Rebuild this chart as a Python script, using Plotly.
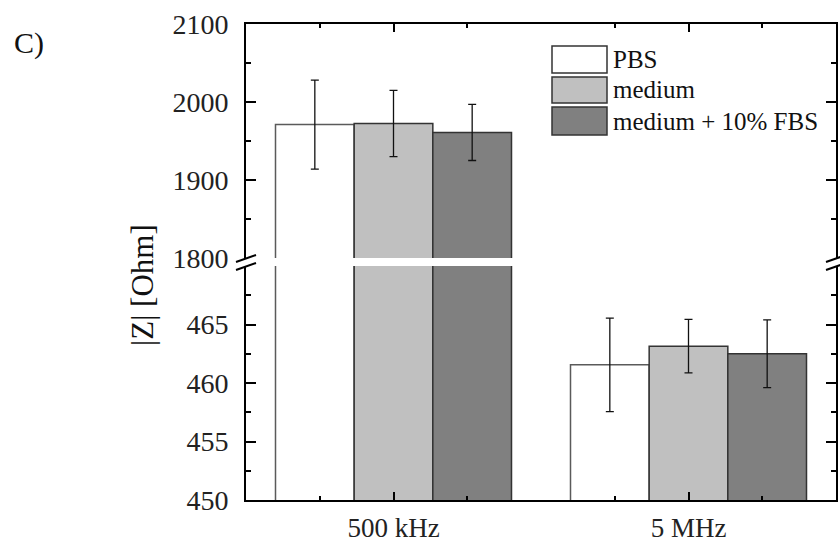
import plotly.graph_objects as go

# ---- data ----
categories = ["500 kHz", "5 MHz"]
series_names = ["PBS", "medium", "medium + 10% FBS"]
pbs_values = [1971, 461.55]
pbs_errors = [57, 4.0]
medium_values = [1972.5, 463.15]
medium_errors = [42.5, 2.28]
fbs_values = [1961, 462.5]
fbs_errors = [36, 2.9]
y_top_ticks = [1800, 1900, 2000, 2100]
y_bottom_ticks = [450, 455, 460, 465]

values = [pbs_values, medium_values, fbs_values]
errors = [pbs_errors, medium_errors, fbs_errors]
fills = ["#ffffff", "#c0c0c0", "#808080"]
outlines = ["#5a5a5a", "#333333", "#333333"]

FONT = "Liberation Serif, Times New Roman, serif"
W, H = 840, 543
# plot area in window pixels
PL, PR, PT, PB = 246, 836, 24, 500
L, R, T, B = PL, W - PR, PT, H - PB
PW, PH = PR - PL, PB - PT

def px_x(px):
    return (px - PL) / PW

def px_y(py):
    return (PB - py) / PH

x_pos = list(range(len(categories)))

fig = go.Figure()
for axes in (("x", "y"), ("x2", "y2")):
    for name, vals, errs, fc, lc in zip(series_names, values, errors, fills, outlines):
        fig.add_trace(go.Bar(
            x=x_pos, y=vals, name=name, xaxis=axes[0], yaxis=axes[1],
            marker=dict(color=fc, line=dict(color=lc, width=1.5)),
            error_y=dict(type="data", array=errs, color="#111111", thickness=1.3, width=4),
            showlegend=False,
        ))

common_x = dict(
    range=[-0.5, 1.5], tickvals=x_pos, ticktext=categories,
    ticks="inside", ticklen=8, tickwidth=2, tickcolor="black",
    minor=dict(tickvals=[-0.25, 0.25, 0.75, 1.25], ticks="inside", ticklen=4, tickwidth=2, tickcolor="black"),
    showline=True, linewidth=2, linecolor="black",
    showgrid=False, zeroline=False, automargin=False,
    tickfont=dict(family=FONT, size=27, color="#222"),
)
common_y = dict(
    ticks="inside", ticklen=10, tickwidth=2, tickcolor="black",
    showline=True, linewidth=2, linecolor="black", mirror="ticks",
    showgrid=False, zeroline=False, automargin=False,
    tickfont=dict(family=FONT, size=28, color="#222"),
    ticklabelstandoff=10,
)

fig.update_layout(
    width=W, height=H,
    margin=dict(l=L, r=R, t=T, b=B, autoexpand=False),
    paper_bgcolor="white", plot_bgcolor="white",
    barmode="group", bargap=0.2, bargroupgap=0,
    showlegend=False,
    xaxis=dict(**common_x, anchor="y", domain=[0, 1], ticklabelstandoff=3),
    xaxis2=dict(**common_x, anchor="y2", domain=[0, 1], side="top", matches="x", showticklabels=False),
    yaxis=dict(**common_y, domain=[0, px_y(266)], range=[450, 470], tickvals=y_bottom_ticks,
               minor=dict(tickvals=[452.5, 457.5, 462.5, 467.5], ticks="inside", ticklen=5, tickwidth=2, tickcolor="black")),
    yaxis2=dict(**common_y, domain=[px_y(258), 1], range=[1800, 2100], tickvals=y_top_ticks,
                minor=dict(tickvals=[1850, 1950, 2050], ticks="inside", ticklen=5, tickwidth=2, tickcolor="black")),
)

# axis-break marks
shapes = []
for xa in (0, 1):
    for (y0, y1) in ((0, 7), (-8, -1)):
        shapes.append(dict(type="line", xref="paper", yref="paper",
                           xsizemode="pixel", xanchor=xa, ysizemode="pixel", yanchor=px_y(262),
                           x0=-10, x1=10, y0=y0, y1=y1,
                           line=dict(color="black", width=2)))

# legend (custom, boxed swatches)
swatch_rows = [(46, 73), (77, 103), (107, 135)]
annotations = []
for name, fc, lc, (top, bot) in zip(series_names, fills, outlines, swatch_rows):
    shapes.append(dict(type="rect", xref="paper", yref="paper",
                       x0=px_x(552), x1=px_x(607), y0=px_y(bot), y1=px_y(top),
                       fillcolor=fc, line=dict(color="#333333", width=1.5)))
    annotations.append(dict(text=name, xref="paper", yref="paper",
                            x=px_x(611), y=px_y((top + bot) / 2), xanchor="left", yanchor="middle",
                            showarrow=False, font=dict(family=FONT, size=25, color="#111")))

annotations.append(dict(text="|Z| [Ohm]", xref="paper", yref="paper", x=px_x(142), y=px_y(285),
                        textangle=-90, showarrow=False, xanchor="center", yanchor="middle",
                        font=dict(family=FONT, size=31, color="#111")))
annotations.append(dict(text="C)", xref="paper", yref="paper", x=px_x(12), y=px_y(43),
                        xanchor="left", yanchor="middle", showarrow=False,
                        font=dict(family=FONT, size=30, color="#111")))

fig.update_layout(shapes=shapes, annotations=annotations)

fig.write_html(
    "out.html",
    config={"displayModeBar": False},
    post_script="document.body.style.margin='0';document.body.style.overflow='hidden';",
)
